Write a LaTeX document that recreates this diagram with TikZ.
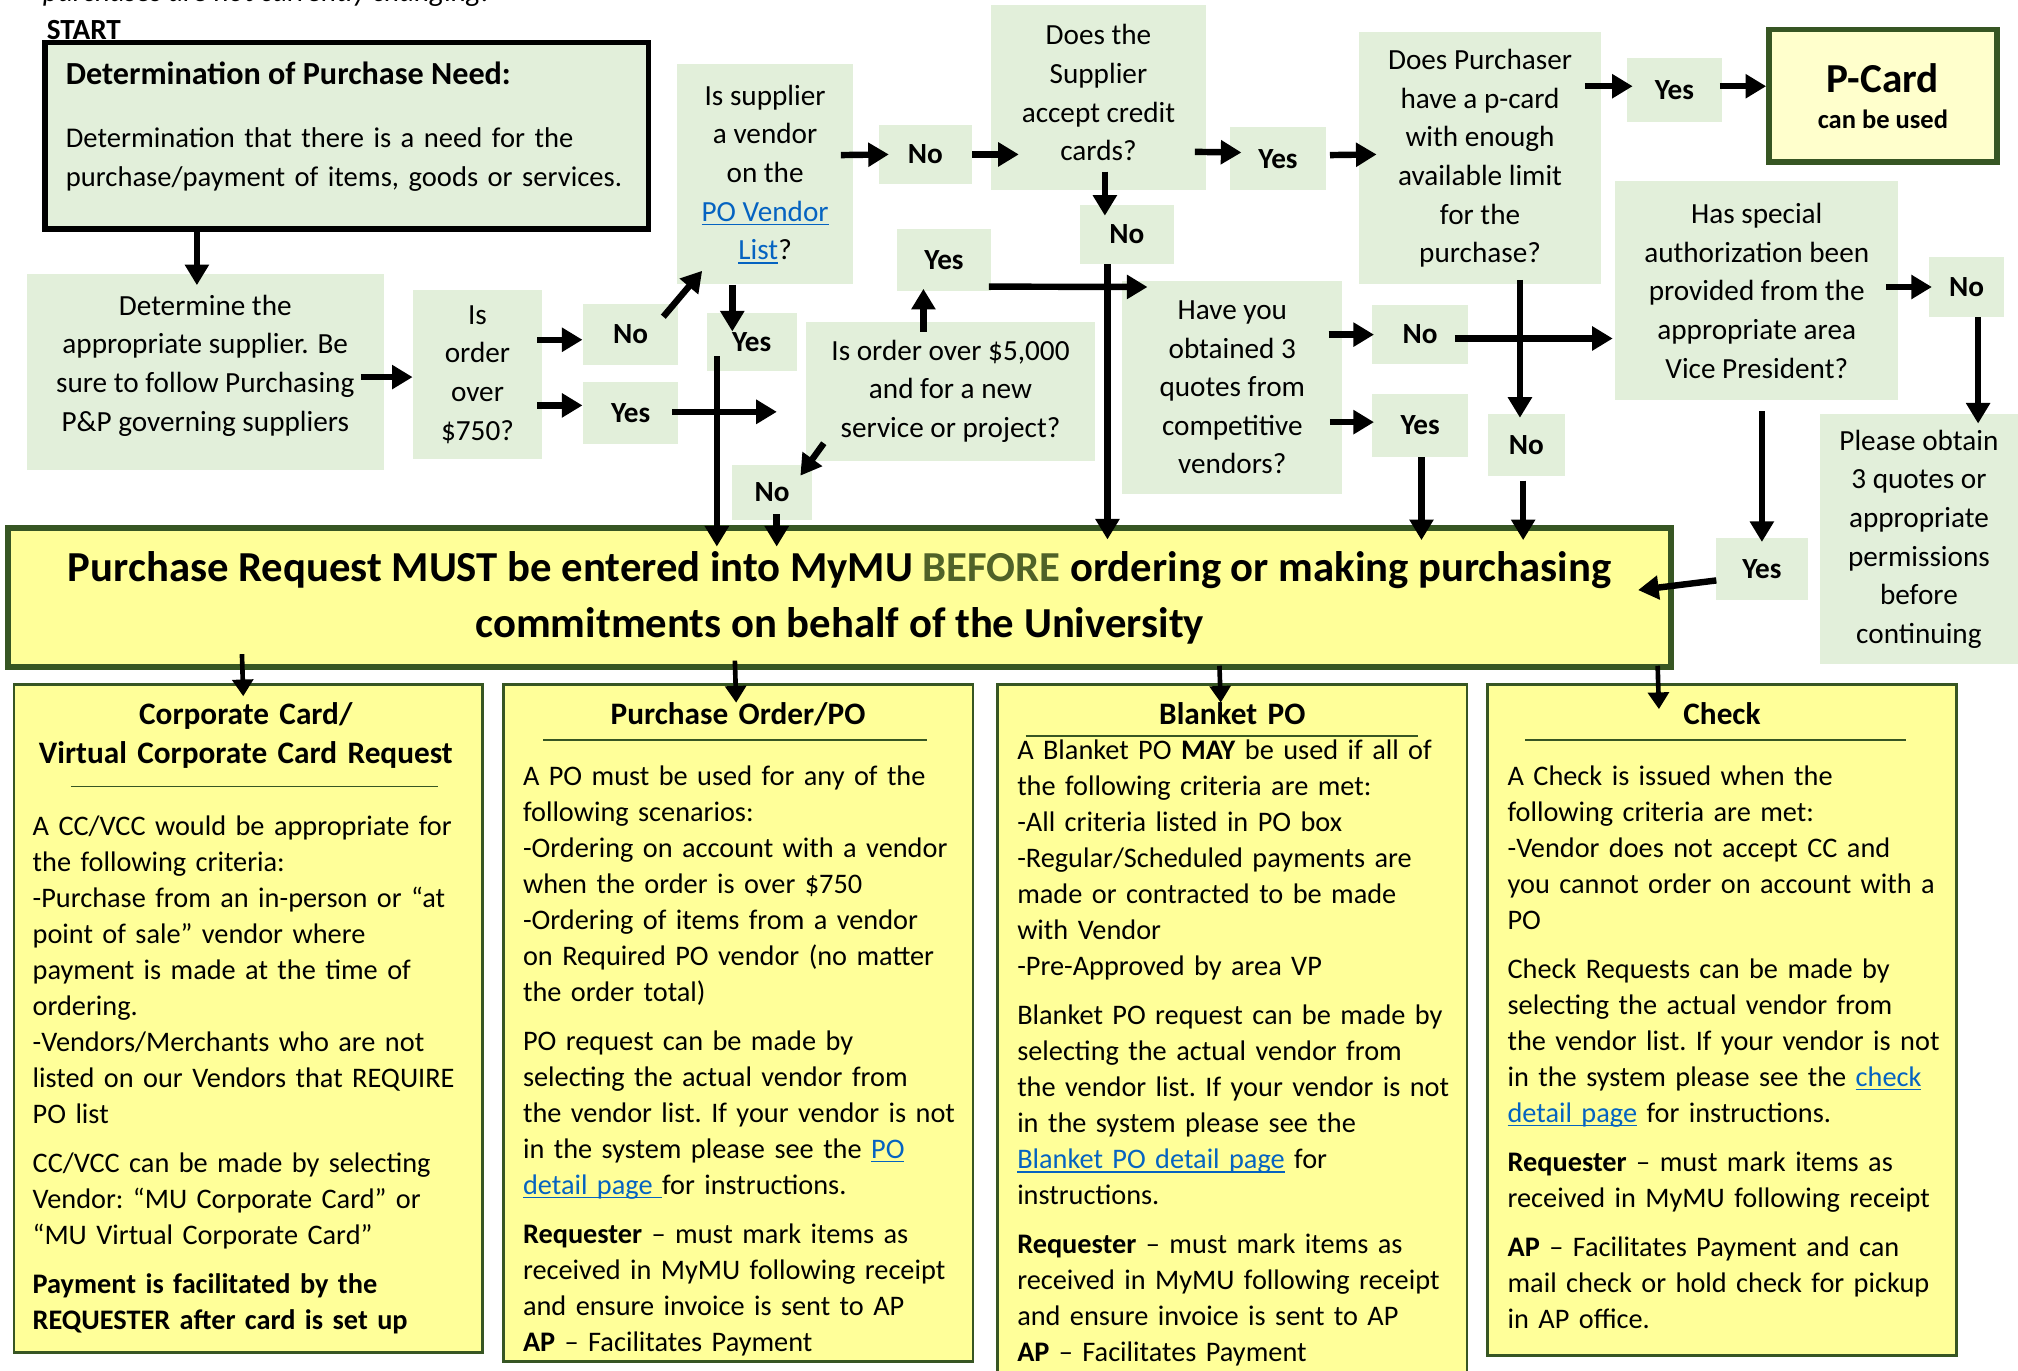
\documentclass[tikz,border=0pt]{standalone}
\usepackage{fontspec}
\setmainfont{Carlito}
\usetikzlibrary{positioning,arrows.meta}

\definecolor{qgreen}{HTML}{E2EFDA}
\definecolor{ryellow}{HTML}{FFFF99}
\definecolor{pyellow}{HTML}{FFFFCC}
\definecolor{dkgreen}{HTML}{375623}
\definecolor{beforegreen}{HTML}{4F6228}
\definecolor{linkblue}{HTML}{0563C1}

\newcommand{\qsize}{\fontsize{11.35}{15}\selectfont}
\newcommand{\bsize}{\fontsize{11}{14}\selectfont\frenchspacing}
\newcommand{\lnk}[1]{\textcolor{linkblue}{\setbox0\hbox{#1}\rlap{\rule[-1.6pt]{\wd0}{0.6pt}}\box0}}

\begin{document}
\begin{tikzpicture}[x=0.5pt,y=-0.5pt,
    >={Triangle[width=9pt,length=8pt]},
    wh/.style 2 args={minimum width=#1*0.5pt,minimum height=#2*0.5pt},
    quest/.style={rectangle,fill=qgreen,align=center,font=\qsize,inner sep=0pt},
    yn/.style={rectangle,fill=qgreen,font=\qsize\bfseries,inner sep=0pt},
    arr/.style={->,line width=2.5pt},
    darr/.style={-{Triangle[width=8pt,length=6.5pt]},line width=1.8pt},
% Info box styles
    info/.style={rectangle,draw=dkgreen,line width=1pt,fill=ryellow,anchor=north west,inner sep=0pt},
    infottl/.style={anchor=base,align=center,text width=175pt,inner sep=0pt,
		font=\fontsize{12.15}{15}\selectfont\bfseries},
    infotxt/.style={anchor=base west,align=left,text width=180pt,inner sep=0pt,font=\bsize},
    rulel/.style={draw=dkgreen,line width=0.6pt}
    ]
    \useasboundingbox (0,0) rectangle (1568,1065);

    % Heading
    \node [anchor=base west,font=\qsize\itshape,inner sep=0pt] (note) at (33,1) {purchases are not currently changing.};
    \node [anchor=base west,font=\qsize\bfseries,inner sep=0pt] (start) at (36,31) {START};
    \node [draw=black,line width=2.2pt,fill=qgreen,wh={469}{145}] (need) at (269.5,105.5) {};
    \node [anchor=base west,font=\fontsize{12.5}{15}\selectfont\bfseries,inner sep=0pt] (needttl)
        at ([shift={(18,35)}]need.north west) {Determination of Purchase Need:};
    \node [anchor=base west,align=left,text width=232pt,inner sep=0pt,font=\fontsize{11.1}{15}\selectfont\frenchspacing] (needtxt)
        at ([shift={(18,84)}]need.north west) {Determination that there is a need for the\\purchase/payment of items, goods or services.};

    % Place nodes
    \node [quest,wh={277}{152}] (supp) at (159.5,289) {};
    \node [quest] (supptxt) at ([shift={(0,-5)}]supp.center) {Determine the\\appropriate supplier. Be\\sure to follow Purchasing\\P\&P governing suppliers};
    \node [quest,wh={100}{132}] (ord) at (371,291) {Is\\order\\over\\\$750?};
    \node [yn,wh={74}{47}] (no1) at (490,260) {No};
    \node [yn,wh={74}{48}] (yes1) at (490,321) {Yes};
    \node [quest,wh={137}{171}] (vend) at (594.5,135.5) {Is supplier\\a vendor\\on the\\\lnk{PO Vendor}\\\lnk{List}?};
    \node [yn,wh={72}{46}] (no2) at (719,120) {No};
    \node [quest,wh={167}{144}] (cc) at (853.5,76) {};
    \node [quest] (cctxt) at ([shift={(0,-4)}]cc.center) {Does the\\Supplier\\accept credit\\cards?};
    \node [yn,wh={70}{45}] (yes2) at (584,265.5) {Yes};
    \node [quest,wh={225}{108}] (big5k) at (738.5,304) {Is order over \$5,000\\and for a new\\service or project?};
    \node [yn,wh={73}{48}] (yes3) at (733.5,202) {Yes};
    \node [yn,wh={62}{43}] (no3) at (600,382.5) {No};
    \node [yn,wh={73}{46}] (no4) at (875.5,182) {No};
    \node [yn,wh={74}{49}] (yes4) at (993,123.5) {Yes};
    \node [quest,wh={188}{196}] (pcq) at (1150,123) {Does Purchaser\\have a p-card\\with enough\\available limit\\for the\\purchase?};
    \node [yn,wh={74}{50}] (yes5) at (1301,70) {Yes};
    \node [draw=dkgreen,line width=2.2pt,fill=pyellow,wh={177}{103}] (pcard) at (1463,74.5) {};
    \node [anchor=base,font=\fontsize{16}{18}\selectfont\bfseries,inner sep=0pt] (pcardttl) at ([shift={(0,-2.5)}]pcard.center) {P-Card};
    \node [anchor=base,font=\fontsize{10.3}{12}\selectfont\bfseries,inner sep=0pt] (pcardtxt) at ([shift={(0,25.5)}]pcard.center) {can be used};
    \node [quest,wh={171}{166}] (quotes) at (957.5,301) {Have you\\obtained 3\\quotes from\\competitive\\vendors?};
    \node [yn,wh={75}{46}] (no6) at (1103.5,260) {No};
    \node [yn,wh={75}{49}] (yes6) at (1103.5,330.5) {Yes};
    \node [yn,wh={60}{48}] (no5) at (1186,346) {No};
    \node [quest,wh={220}{170}] (vp) at (1365,226) {Has special\\authorization been\\provided from the\\appropriate area\\Vice President?};
    \node [yn,wh={58}{46}] (no7) at (1528,223) {No};
    \node [quest,wh={154}{194}] (obtain) at (1491,419) {Please obtain\\3 quotes or\\appropriate\\permissions\\before\\continuing};
    \node [yn,wh={72}{48}] (yes7) at (1369,442) {Yes};

    \node [draw=dkgreen,line width=2.3pt,fill=ryellow,wh={1292}{108},align=center,
		font=\fontsize{16.6}{22}\selectfont\bfseries] (req) at (652.5,464.5)
        {Purchase Request MUST be entered into MyMU \textcolor{beforegreen}{BEFORE} ordering or making purchasing\\commitments on behalf of the University};

    % Payment methods
    \node [info,wh={364}{519}] (ccbox) at (10,531) {};
    \node [info,wh={365}{526}] (pobox) at (390,531) {};
    \node [info,wh={365}{540}] (bpobox) at (774,531) {};
    \node [info,wh={364}{521}] (chkbox) at (1155,531) {};

    \node [infottl] (ccttl) at ([shift={(-2,32)}]ccbox.north) {Corporate Card/\\Virtual Corporate Card Request};
    \node [infottl] (pottl) at ([shift={(0,32)}]pobox.north) {Purchase Order/PO};
    \node [infottl] (bpottl) at ([shift={(0,32)}]bpobox.north) {Blanket PO};
    \node [infottl] (chkttl) at ([shift={(0,32)}]chkbox.north) {Check};
    \draw [rulel] ([shift={(45,80)}]ccbox.north west) -- ([shift={(-36,80)}]ccbox.north east);
    \draw [rulel] ([shift={(32,44)}]pobox.north west) -- ([shift={(-37,44)}]pobox.north east);
    \draw [rulel] ([shift={(23,41)}]bpobox.north west) -- ([shift={(-39,41)}]bpobox.north east);
    \draw [rulel] ([shift={(30,44)}]chkbox.north west) -- ([shift={(-40,44)}]chkbox.north east);

    \node [infotxt] (cctxt) at ([shift={(15,118)}]ccbox.north west)
        {A CC/VCC would be appropriate for\\the following criteria:\\-Purchase from an in-person or “at\\point of sale” vendor where\\payment is made at the time of\\ordering.\\-Vendors/Merchants who are not\\listed on our Vendors that REQUIRE\\PO list\\[5pt]CC/VCC can be made by selecting\\Vendor: “MU Corporate Card” or\\“MU Virtual Corporate Card”\\[5pt]\textbf{Payment is facilitated by the}\\\textbf{REQUESTER after card is set up}};
    \node [infotxt] (potxt) at ([shift={(16,79)}]pobox.north west)
        {A PO must be used for any of the\\following scenarios:\\-Ordering on account with a vendor\\when the order is over \$750\\-Ordering of items from a vendor\\on Required PO vendor (no matter\\the order total)\\[5pt]PO request can be made by\\selecting the actual vendor from\\the vendor list. If your vendor is not\\in the system please see the \lnk{PO}\\\lnk{detail page\ }for instructions.\\[5pt]\textbf{Requester} -- must mark items as\\received in MyMU following receipt\\and ensure invoice is sent to AP\\\textbf{AP} -- Facilitates Payment};
    \node [infotxt] (bpotxt) at ([shift={(16,59)}]bpobox.north west)
        {A Blanket PO \textbf{MAY} be used if all of\\the following criteria are met:\\-All criteria listed in PO box\\-Regular/Scheduled payments are\\made or contracted to be made\\with Vendor\\-Pre-Approved by area VP\\[5pt]Blanket PO request can be made by\\selecting the actual vendor from\\the vendor list. If your vendor is not\\in the system please see the\\\lnk{Blanket PO detail page} for\\instructions.\\[5pt]\textbf{Requester} -- must mark items as\\received in MyMU following receipt\\and ensure invoice is sent to AP\\\textbf{AP} -- Facilitates Payment};
    \node [infotxt] (chktxt) at ([shift={(16,79)}]chkbox.north west)
        {A Check is issued when the\\following criteria are met:\\-Vendor does not accept CC and\\you cannot order on account with a\\PO\\[5pt]Check Requests can be made by\\selecting the actual vendor from\\the vendor list. If your vendor is not\\in the system please see the \lnk{check}\\\lnk{detail page} for instructions.\\[5pt]\textbf{Requester} -- must mark items as\\received in MyMU following receipt\\[5pt]\textbf{AP} -- Facilitates Payment and can\\mail check or hold check for pickup\\in AP office.};

    % Draw edges
    \draw [arr] ([shift={(-116.5,0)}]need.south) -- ([shift={(-6.5,9)}]supp.north);
    \draw [arr] ([shift={(-18,4)}]supp.east) -- ([shift={(0,2)}]ord.west);
    \draw [arr] ([shift={(-4,-27)}]ord.east) -- ([shift={(0,4)}]no1.west);
    \draw [arr] ([shift={(-4,24)}]ord.east) -- ([shift={(0,-6)}]yes1.west);
    \draw [arr] ([shift={(-12,10)}]no1.north east) -- ([shift={(20,-11)}]vend.south west);
    \draw [arr] ([shift={(-10,-15)}]vend.east) -- ([shift={(8,0)}]no2.west);
    \draw [arr] (no2.east) -- ([shift={(22,44)}]cc.west);
    \draw [arr] ([shift={(-9,42)}]cc.east) -- ([shift={(9,-5)}]yes4.west);
    \draw [arr] ([shift={(3,-3)}]yes4.east) -- ([shift={(14,-3)}]pcq.west);
    \draw [arr] ([shift={(-13,-56)}]pcq.east) -- ([shift={(5,-3)}]yes5.west);
    \draw [arr] ([shift={(-2,-3)}]yes5.east) -- ([shift={(0,-7.5)}]pcard.west);
    \draw [arr] ([shift={(5,-15)}]cc.south) -- ([shift={(-17,9)}]no4.north);
    \draw [arr] ([shift={(-15,0)}]no4.south) -- ([shift={(208,11)}]req.north);
    \draw [arr] ([shift={(-25.5,0)}]vend.south) -- ([shift={(-15,15)}]yes2.north);
    \draw [arr] ([shift={(-27,11.5)}]yes2.center) -- ([shift={(-95.5,16.5)}]req.north);
    \draw [arr] ([shift={(-5,-1)}]yes1.east) -- ([shift={(-22,16)}]big5k.west);
    \draw [arr] ([shift={(-21,8)}]big5k.north) -- ([shift={(-16,-2)}]yes3.south);
    \draw [arr] ([shift={(-2,20.7)}]yes3.east) -- ([shift={(20,-78)}]quotes.west);
    \draw [arr] ([shift={(14.5,-14)}]big5k.south west) -- ([shift={(-9.5,9)}]no3.north east);
    \draw [arr] ([shift={(3.5,-5)}]no3.south) -- ([shift={(-49,16.5)}]req.north);
    \draw [arr] ([shift={(-11,-41)}]quotes.east) -- ([shift={(2,0)}]no6.west);
    \draw [arr] ([shift={(-10,27)}]quotes.east) -- ([shift={(2,-2.5)}]yes6.west);
    \draw [arr] ([shift={(1,0)}]yes6.south) -- ([shift={(452,11.5)}]req.north);
    \draw [arr] ([shift={(-11,3)}]no6.east) -- ([shift={(-1.5,37)}]vp.west);
    \draw [arr] ([shift={(31,-4)}]pcq.south) -- ([shift={(-5,3)}]no5.north);
    \draw [arr] ([shift={(-2.5,3)}]no5.south) -- ([shift={(531,11.5)}]req.north);
    \draw [arr] ([shift={(-10,-3)}]vp.east) -- ([shift={(2.5,0)}]no7.west);
    \draw [arr] ([shift={(9,0)}]no7.south) -- ([shift={(46,7.5)}]obtain.north);
    \draw [arr] ([shift={(4,8)}]vp.south) -- ([shift={(0,3.5)}]yes7.north);
    \draw [arr] ([shift={(1,9)}]yes7.west) -- ([shift={(-28,-6)}]req.east);

    \draw [darr] ([shift={(-464.5,-12.5)}]req.south) -- ([shift={(-4,10)}]ccbox.north);
    \draw [darr] ([shift={(-81.5,-7.5)}]req.south) -- ([shift={(-1.5,15)}]pobox.north);
    \draw [darr] ([shift={(295,-3.5)}]req.south) -- ([shift={(-9,15)}]bpobox.north);
    \draw [darr] ([shift={(635.5,-3.5)}]req.south) -- ([shift={(-49,20)}]chkbox.north);
\end{tikzpicture}
\end{document}
